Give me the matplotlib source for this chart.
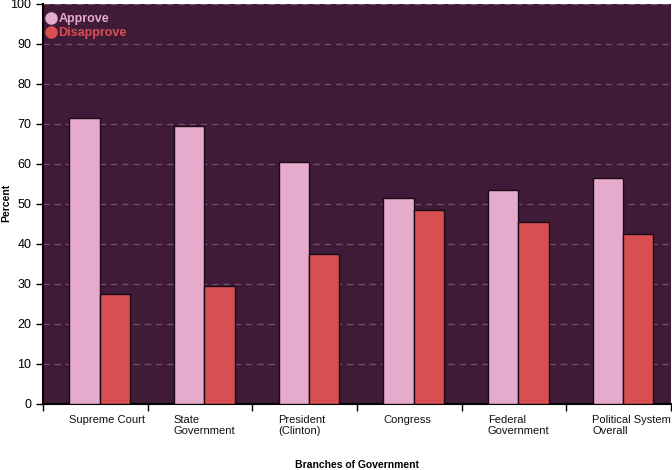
import matplotlib
matplotlib.use("Agg")
import matplotlib.pyplot as plt
from matplotlib.lines import Line2D
import numpy as np

plt.rcParams['font.family'] = ['Liberation Sans', 'DejaVu Sans']

categories = ["Supreme Court", "State\nGovernment", "President\n(Clinton)",
              "Congress", "Federal\nGovernment", "Political System\nOverall"]
approve = [71.5, 69.5, 60.5, 51.5, 53.5, 56.5]
disapprove = [27.5, 29.5, 37.5, 48.5, 45.5, 42.5]

bg = '#401b38'
c_app = '#e6abcc'
c_dis = '#d84f51'

fig = plt.figure(figsize=(6.72, 4.70), dpi=100)
ax = fig.add_axes([43/672, 66/470, 628/672, 400/470])
ax.set_facecolor(bg)

x = np.arange(len(categories))
w = 0.29
ax.bar(x + 0.25, approve, width=w, align='edge', color=c_app,
       edgecolor='#1a0a14', linewidth=1, zorder=3)
ax.bar(x + 0.25 + w, disapprove, width=w, align='edge', color=c_dis,
       edgecolor='#1a0a14', linewidth=1, zorder=3)

ax.set_xlim(0, len(categories))
ax.set_ylim(0, 100)
ax.set_yticks(range(0, 101, 10))
ax.yaxis.grid(True, color='#7a4d70', linestyle=(0, (5, 4)), linewidth=0.9, zorder=0)
ax.set_axisbelow(True)

ax.set_xticks(range(len(categories) + 1))
ax.set_xticklabels([])
for i, lab in enumerate(categories):
    ax.text(i + 0.25, -2.8, lab, ha='left', va='top', fontsize=8,
            color='#111111', linespacing=1.1)

ax.tick_params(axis='both', direction='out', length=5, width=1, color='black',
               labelsize=9)
for s in ['top', 'right']:
    ax.spines[s].set_visible(False)
ax.spines['left'].set_linewidth(1.5)
ax.spines['bottom'].set_linewidth(1.5)

fig.text(6/672, 1 - 203/470, "Percent", rotation=90, ha='center', va='center',
         fontsize=7.5, fontweight='bold')
fig.text(357/672, 1 - 465/470, "Branches of Government", ha='center', va='center',
         fontsize=7.5, fontweight='bold')

handles = [Line2D([], [], marker='o', linestyle='', color=c_app, markersize=8),
           Line2D([], [], marker='o', linestyle='', color=c_dis, markersize=8)]
ax.legend(handles, ["Approve", "Disapprove"], loc='upper left',
          bbox_to_anchor=(-0.015, 1.005), frameon=False, handletextpad=0.1,
          handlelength=1.0, labelspacing=0.15, labelcolor=[c_app, c_dis],
          prop={'weight': 'bold', 'size': 9})

fig.savefig("out.png", dpi=100)
